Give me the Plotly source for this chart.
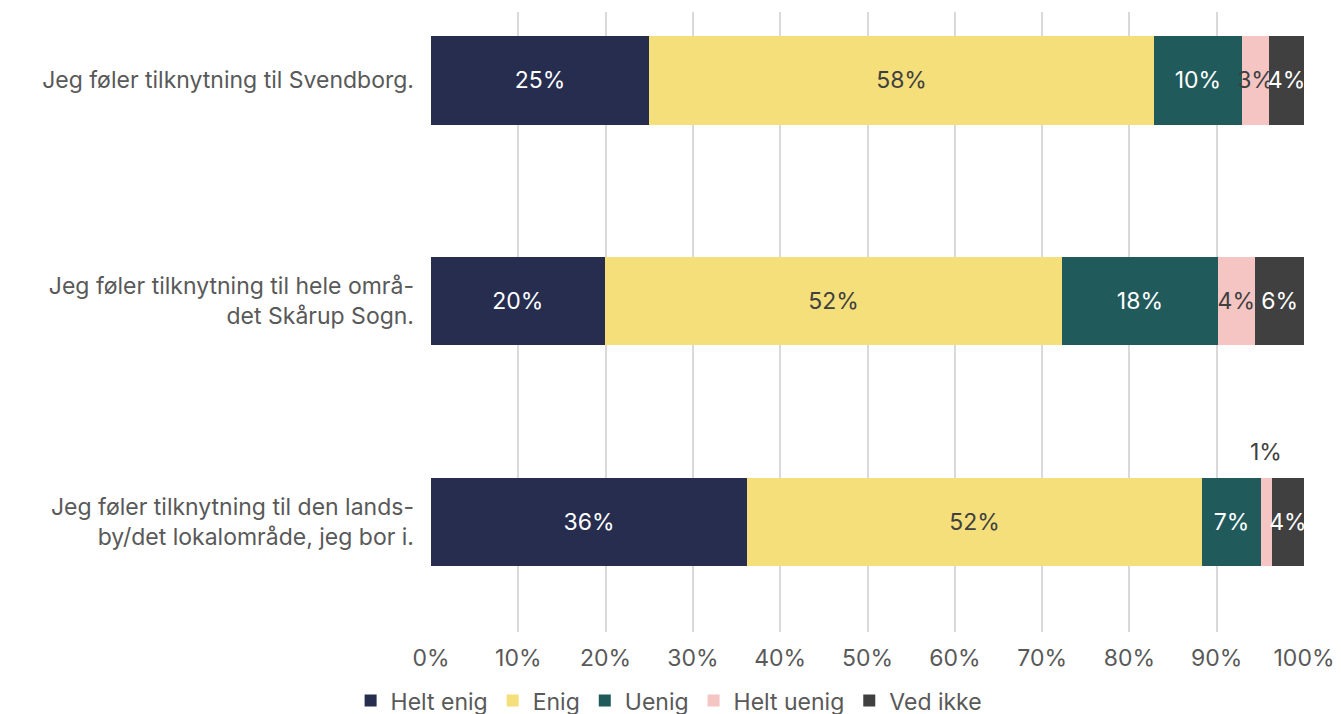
import plotly.graph_objects as go

categories = [
    "Jeg føler tilknytning til Svendborg.",
    "Jeg føler tilknytning til hele områ-<br>det Skårup Sogn.",
    "Jeg føler tilknytning til den lands-<br>by/det lokalområde, jeg bor i.",
]
series_names = ["Helt enig", "Enig", "Uenig", "Helt uenig", "Ved ikke"]
helt_enig = [25.0, 19.9, 36.2]
enig = [57.8, 52.4, 52.1]
uenig = [10.1, 17.8, 6.8]
helt_uenig = [3.1, 4.3, 1.2]
ved_ikke = [4.0, 5.6, 3.7]
x_ticks = [0, 10, 20, 30, 40, 50, 60, 70, 80, 90, 100]

colors = ["#262d4f", "#f5df7a", "#215a5b", "#f4c5c2", "#404040"]
text_colors = ["#ffffff", "#404040", "#ffffff", "#404040", "#ffffff"]
series = [helt_enig, enig, uenig, helt_uenig, ved_ikke]

FONT = "Inter"
FS = 23
fig = go.Figure()
for name, vals, col, tcol in zip(series_names, series, colors, text_colors):
    texts = [f"{v:.0f}%" if (name != "Helt uenig" or v >= 2) else "" for v in vals]
    fig.add_trace(go.Bar(
        y=categories, x=vals, name=name, orientation="h",
        marker=dict(color=col, line=dict(width=0)),
        text=texts, textposition="inside", insidetextanchor="middle",
        textangle=0, constraintext="none",
        textfont=dict(family=FONT, size=FS, color=tcol),
        hoverinfo="skip",
    ))

# small label placed above the bar for tiny segment
for i, cat in enumerate(categories):
    v = helt_uenig[i]
    if v < 2:
        start = helt_enig[i] + enig[i] + uenig[i]
        fig.add_annotation(x=start + v / 2, y=cat, text=f"{v:.0f}%",
                           showarrow=False, yshift=70,
                           font=dict(family=FONT, size=FS, color="#404040"))

fig.update_layout(
    barmode="stack",
    bargap=0.6,
    width=1341, height=714,
    margin=dict(l=423, r=45, t=4, b=90),
    paper_bgcolor="white", plot_bgcolor="white",
    font=dict(family=FONT, size=FS, color="#595959"),
    showlegend=True,
    legend=dict(orientation="h", xref="container", yref="container",
                x=0.493, xanchor="center", y=0.03, yanchor="middle",
                font=dict(family=FONT, size=FS, color="#595959"),
                itemwidth=30, tracegroupgap=0, traceorder="normal"),
)
fig.update_xaxes(range=[0, 100], tickvals=x_ticks,
                 ticktext=[f"{t}%" for t in x_ticks],
                 showgrid=True, gridcolor="#d9d9d9", gridwidth=2,
                 zeroline=False, showline=False, ticks="",
                 ticklabelstandoff=10,
                 tickfont=dict(family=FONT, size=FS, color="#595959"))
fig.update_yaxes(type="category", categoryorder="array", categoryarray=categories,
                 range=[2.5, -0.31], showgrid=False, zeroline=False,
                 showline=False, ticks="", ticklabelstandoff=16,
                 tickfont=dict(family=FONT, size=FS, color="#595959"))

fig.write_html("out.html")
